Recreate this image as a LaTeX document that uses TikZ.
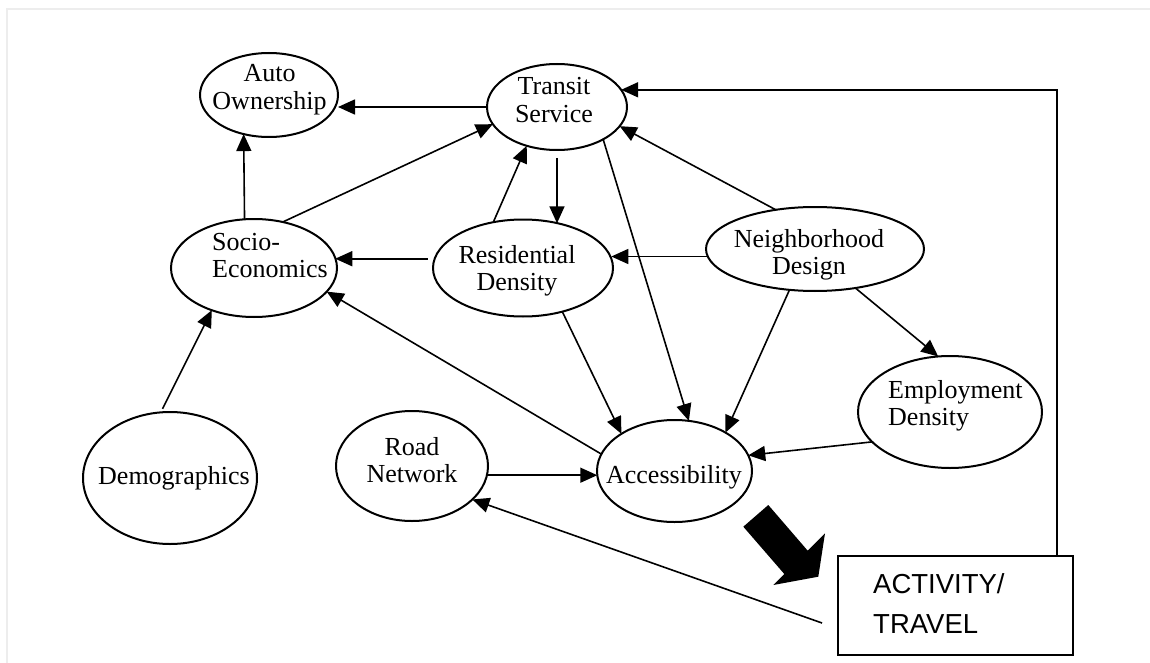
\documentclass[tikz,border=0pt]{standalone}
\usepackage{fontspec}
\setmainfont{Liberation Serif}
\newfontfamily\boxfont{Liberation Sans}
\usetikzlibrary{arrows.meta,shapes.geometric}

% two-line labels; the node baseline is the first line's baseline
\newcommand\twoc[2]{\begin{tabular}[t]{@{}c@{}}#1\\#2\end{tabular}}
\newcommand\twol[2]{\begin{tabular}[t]{@{}l@{}}#1\\#2\end{tabular}}

\tikzset{
  ell/.style={ellipse, draw, line width=2pt, inner sep=0pt, outer sep=0pt},
  lbl/.style={inner sep=0pt, anchor=base, font=\fontsize{26}{27.5}\selectfont},
  lbll/.style={lbl, anchor=base west},
  arr/.style={draw, line width=1.6pt, -{Triangle[length=17pt,width=15pt]}},
  frame/.style={draw=black!7, line width=2pt},
}

\begin{document}
\begin{tikzpicture}[x=1pt,y=-1pt]
\useasboundingbox (0,0) rectangle (1150,663);
\draw[frame] (7,663) -- (7,9) -- (1150,9);

% ellipses
\node[ell, minimum width=138pt, minimum height=84pt]  (ao) at (269,95)  {};
\node[ell, minimum width=140pt, minimum height=86pt]  (ts) at (557,107) {};
\node[ell, minimum width=166pt, minimum height=98pt]  (se) at (254,268) {};
\node[ell, minimum width=180pt, minimum height=97pt]  (rd) at (523,268) {};
\node[ell, minimum width=218pt, minimum height=84pt]  (nd) at (815,249) {};
\node[ell, minimum width=184pt, minimum height=112pt] (ed) at (950,412) {};
\node[ell, minimum width=174pt, minimum height=132pt] (dm) at (170,478) {};
\node[ell, minimum width=152pt, minimum height=110pt] (rn) at (412,466) {};
\node[ell, minimum width=155pt, minimum height=102pt] (ac) at (674.5,471) {};

% labels
\node[lbl]  (aot) at (269.5,82) {\twoc{Auto}{Ownership}};
\node[lbl]  (tst) at (554,95)   {\twoc{Transit}{Service}};
\node[lbll] (set) at (212,250)  {\twol{Socio-}{Economics}};
\node[lbl]  (rdt) at (517,263)  {\twoc{Residential}{Density}};
\node[lbl]  (ndt) at (809,247)  {\twoc{Neighborhood}{Design\hspace{16pt}}};
\node[lbll] (edt) at (888,398)  {\twol{Employment}{Density}};
\node[lbl]  (dmt) at (174,484)  {Demographics};
\node[lbl]  (rnt) at (412,455)  {\twoc{Road}{Network}};
\node[lbl]  (act) at (674,483)  {Accessibility};

% outcome box
\node[draw, line width=1.8pt, inner sep=0pt, minimum width=235pt, minimum height=99pt] (box) at (955.5,605.5) {};
\node[inner sep=0pt, anchor=base west, font=\boxfont\fontsize{27.5}{40}\selectfont] (boxt) at (873,593) {\twol{ACTIVITY/}{TRAVEL}};

% block arrow from accessibility to the outcome
\fill (743.3,526.7) -- (784.3,574) -- (773.3,585) -- (818.3,576.7)
      -- (825,533.3) -- (807.7,550.7) -- (768.3,505) -- cycle;

% influences
\draw[arr] (ts.west) -- (ts.west -| ao.east);
\draw[arr] (se.101) -- (ao.237);
\draw[arr] (se.58) -- (ts.195);
\draw[arr] (rd.123) -- (ts.232);
\draw[arr, shorten <=8pt] (ts.south) -- (ts.south |- rd.52);
\draw[arr, shorten <=7pt] (rd.174) -- (se.7 |- rd.174);
\draw[arr] (nd.184) -- (rd.6 |- nd.184);
\draw[arr] (nd.135) -- (ts.-17);
\draw[arr] (ts.-35) -- (ac.74);
\draw[arr] (rd.-48) -- (ac.145);
\draw[arr] (nd.238) -- (ac.37);
\draw[arr] (nd.-44) -- (ed.102);
\draw[arr] (ed.201) -- (ac.12);
\draw[arr] (ac.167) -- (se.-18);
\draw[arr, shorten <=4pt] (dm.98) -- (se.225);
\draw[arr] (rn.-7) -- (ac.183 |- rn.-7);

% feedback from activity/travel
\coordinate (fb) at (1057,90);
\draw[arr, line width=1.8pt] (box.north -| fb) |- (ts.15);
\coordinate (fa) at (822,623);
\draw[arr] (fa) -- (rn.-29);
\end{tikzpicture}
\end{document}
